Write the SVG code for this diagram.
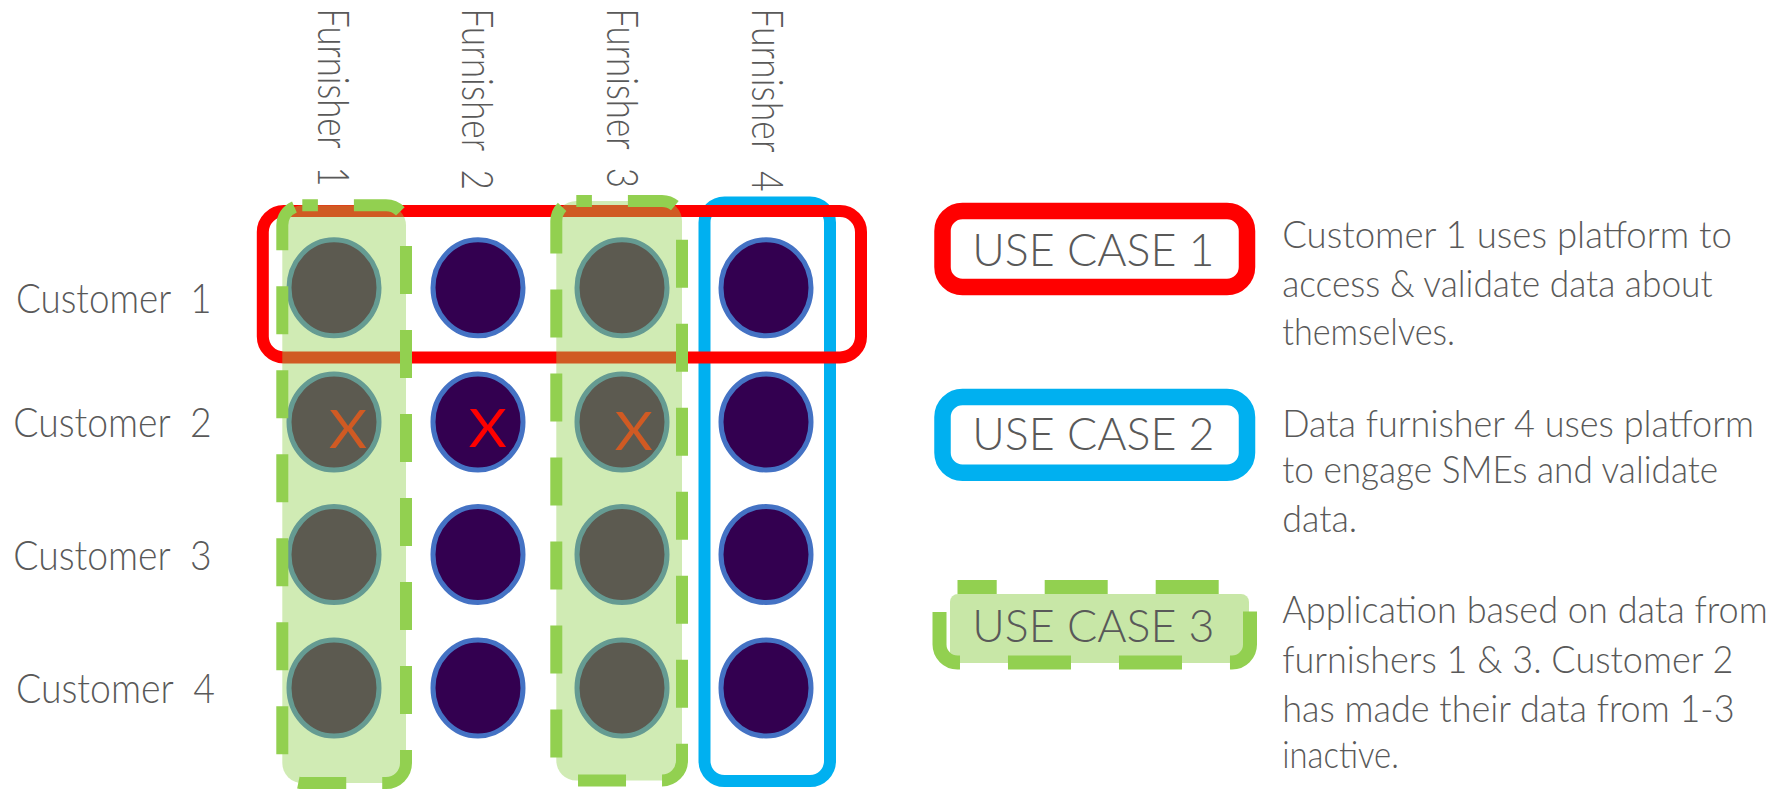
<svg xmlns="http://www.w3.org/2000/svg" width="1783" height="789" viewBox="0 0 1783 789">
<style>
.lbl{font-family:Lato,"Liberation Sans",sans-serif;font-weight:300;fill:#595959}
.cust{font-size:42px;white-space:pre}
.furn{font-size:43px;white-space:pre}
.uc{font-size:46px}
.desc{font-size:37px}
.dot{fill:#330050;stroke:#4472c4;stroke-width:5}
.xm{font-family:Lato,"Liberation Sans",sans-serif;font-weight:400;font-size:53px;fill:#ff0000;text-anchor:middle}
.g-fill{fill:#92d050;fill-opacity:0.43;stroke:none}
.g-dash{fill:none;stroke:#92d050;stroke-width:12;stroke-dasharray:48 36;stroke-dashoffset:32.4}
</style>
<rect width="1783" height="789" fill="#ffffff"/>

<g id="customer-labels">
<text class="lbl cust" x="16" y="313.3" textLength="195.7" lengthAdjust="spacingAndGlyphs">Customer  1</text>
<text class="lbl cust" x="13.3" y="436.7" textLength="198.4" lengthAdjust="spacingAndGlyphs">Customer  2</text>
<text class="lbl cust" x="13.3" y="570" textLength="198.4" lengthAdjust="spacingAndGlyphs">Customer  3</text>
<text class="lbl cust" x="16" y="703.3" textLength="199" lengthAdjust="spacingAndGlyphs">Customer  4</text>
</g>

<g id="furnisher-labels">
<text class="lbl furn" transform="translate(318.4,8.3) rotate(90)" textLength="178.4" lengthAdjust="spacingAndGlyphs">Furnisher  1</text>
<text class="lbl furn" transform="translate(462,8.3) rotate(90)" textLength="181.7" lengthAdjust="spacingAndGlyphs">Furnisher  2</text>
<text class="lbl furn" transform="translate(607.4,8.3) rotate(90)" textLength="179.7" lengthAdjust="spacingAndGlyphs">Furnisher  3</text>
<text class="lbl furn" transform="translate(752,8.3) rotate(90)" textLength="183.4" lengthAdjust="spacingAndGlyphs">Furnisher  4</text>
</g>

<g id="matrix">
<g id="row1">
<ellipse class="dot" cx="334" cy="287.8" rx="45" ry="48"/>
<ellipse class="dot" cx="478" cy="287.8" rx="45" ry="48"/>
<ellipse class="dot" cx="622" cy="287.8" rx="45" ry="48"/>
<ellipse class="dot" cx="766" cy="287.8" rx="45" ry="48"/>
</g>
<g id="row2">
<ellipse class="dot" cx="334" cy="422" rx="45" ry="48"/>
<ellipse class="dot" cx="478" cy="422" rx="45" ry="48"/>
<ellipse class="dot" cx="622" cy="422" rx="45" ry="48"/>
<ellipse class="dot" cx="766" cy="422" rx="45" ry="48"/>
<text class="xm" x="348" y="448.3" textLength="38" lengthAdjust="spacingAndGlyphs">X</text>
<text class="xm" x="487.7" y="446.7" textLength="38" lengthAdjust="spacingAndGlyphs">X</text>
<text class="xm" x="633.8" y="450" textLength="38" lengthAdjust="spacingAndGlyphs">X</text>
</g>
<g id="row3">
<ellipse class="dot" cx="334" cy="554.5" rx="45" ry="48"/>
<ellipse class="dot" cx="478" cy="554.5" rx="45" ry="48"/>
<ellipse class="dot" cx="622" cy="554.5" rx="45" ry="48"/>
<ellipse class="dot" cx="766" cy="554.5" rx="45" ry="48"/>
</g>
<g id="row4">
<ellipse class="dot" cx="334" cy="688" rx="45" ry="48"/>
<ellipse class="dot" cx="478" cy="688" rx="45" ry="48"/>
<ellipse class="dot" cx="622" cy="688" rx="45" ry="48"/>
<ellipse class="dot" cx="766" cy="688" rx="45" ry="48"/>
</g>
</g>

<g id="use-case-2-frame">
<rect x="704.5" y="202.5" width="125.5" height="578.5" rx="20" fill="none" stroke="#00b0f0" stroke-width="12"/>
</g>
<g id="use-case-1-frame">
<rect x="262.8" y="211" width="598.2" height="146.5" rx="21" fill="none" stroke="#ff0000" stroke-width="12"/>
</g>
<g id="use-case-3-frames">
<rect class="g-fill" x="282.3" y="205.3" width="123.7" height="577.7" rx="20"/>
<rect class="g-dash" x="282.3" y="205.3" width="123.7" height="577.7" rx="20"/>
<rect class="g-fill" x="556.3" y="201" width="125.7" height="579.5" rx="20"/>
<rect class="g-dash" x="556.3" y="201" width="125.7" height="579.5" rx="20"/>
</g>

<g id="legend-1">
<rect x="942.5" y="211" width="304.5" height="76" rx="20" fill="#ffffff" stroke="#ff0000" stroke-width="16.5"/>
<text class="lbl uc" x="972.3" y="266" textLength="242.2" lengthAdjust="spacingAndGlyphs">USE CASE 1</text>
<text class="lbl desc" x="1282.2" y="248.3" textLength="449.7" lengthAdjust="spacingAndGlyphs">Customer 1 uses platform to</text>
<text class="lbl desc" x="1282.2" y="296.7" textLength="430.4" lengthAdjust="spacingAndGlyphs">access &amp; validate data about</text>
<text class="lbl desc" x="1282.2" y="345" textLength="172.8" lengthAdjust="spacingAndGlyphs">themselves.</text>
</g>

<g id="legend-2">
<rect x="942.5" y="397" width="304.5" height="75.7" rx="20" fill="#ffffff" stroke="#00b0f0" stroke-width="16.5"/>
<text class="lbl uc" x="972.3" y="450" textLength="242.2" lengthAdjust="spacingAndGlyphs">USE CASE 2</text>
<text class="lbl desc" x="1282.2" y="436.7" textLength="471.7" lengthAdjust="spacingAndGlyphs">Data furnisher 4 uses platform</text>
<text class="lbl desc" x="1282.2" y="483.3" textLength="435.9" lengthAdjust="spacingAndGlyphs">to engage SMEs and validate</text>
<text class="lbl desc" x="1282.2" y="531.5" textLength="75" lengthAdjust="spacingAndGlyphs">data.</text>
</g>

<g id="legend-3">
<rect x="950" y="594" width="299" height="69" rx="8" fill="#92d050" fill-opacity="0.5"/>
<rect x="939.5" y="587" width="310.5" height="75.5" rx="18" fill="none" stroke="#92d050" stroke-width="14" stroke-dasharray="63 48" stroke-dashoffset="23.8"/>
<text class="lbl uc" x="972.3" y="641.7" textLength="242.2" lengthAdjust="spacingAndGlyphs">USE CASE 3</text>
<text class="lbl desc" x="1282.2" y="623.3" textLength="485.5" lengthAdjust="spacingAndGlyphs">Application based on data from</text>
<text class="lbl desc" x="1282.2" y="673.3" textLength="451.3" lengthAdjust="spacingAndGlyphs">furnishers 1 &amp; 3. Customer 2</text>
<text class="lbl desc" x="1282.2" y="721.7" textLength="452.4" lengthAdjust="spacingAndGlyphs">has made their data from 1-3</text>
<text class="lbl desc" x="1282.2" y="768.3" textLength="116.7" lengthAdjust="spacingAndGlyphs">inactive.</text>
</g>
</svg>
